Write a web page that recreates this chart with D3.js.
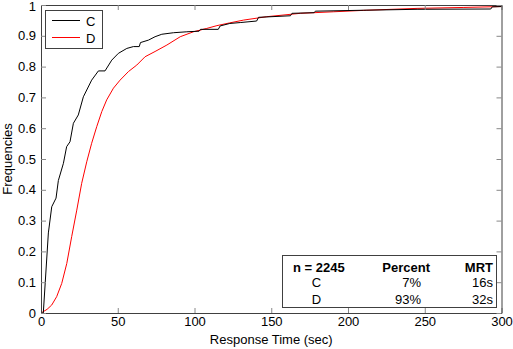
<!DOCTYPE html>
<html>
<head>
<meta charset="utf-8">
<script src="https://cdn.jsdelivr.net/npm/d3@7"></script>
<style>
  html, body { margin: 0; padding: 0; background: #fff; }
  svg { display: block; }
  text { font-family: "Liberation Sans", Arial, Helvetica, sans-serif; fill: #000; }
</style>
</head>
<body>
<svg id="chart" width="513" height="349"></svg>
<script>
// Cumulative response-time frequencies per group: [seconds, fraction]
const seriesC = [
  [0, 0], [1.5, 0], [4.8, 0.26], [7, 0.345], [9.8, 0.373], [11.3, 0.43],
  [14.6, 0.486], [16.7, 0.54], [18.9, 0.556], [21.1, 0.616], [24.3, 0.643],
  [27.6, 0.702], [33, 0.756], [37.4, 0.786], [41.7, 0.786], [46.1, 0.821],
  [50.4, 0.843], [55.9, 0.859], [60.2, 0.865], [64, 0.865], [64.8, 0.878],
  [70, 0.886], [74.3, 0.897], [78.7, 0.905], [86.3, 0.91], [95, 0.913],
  [103, 0.915], [104, 0.921], [115.5, 0.921], [116.7, 0.932], [123, 0.94],
  [129.8, 0.943], [140.5, 0.948], [141.7, 0.96], [162.5, 0.965], [163.5, 0.973],
  [178, 0.975], [178.7, 0.98], [210, 0.983], [245, 0.986], [293, 0.987],
  [294, 0.994], [300, 0.995]
];
const seriesD = [
  [0, 0], [1, 0.003], [4, 0.012], [7, 0.026], [10.2, 0.053], [13.5, 0.096],
  [16.8, 0.161], [20, 0.248], [23.3, 0.334], [26.5, 0.421], [29.8, 0.491],
  [33, 0.551], [36.3, 0.605], [39.6, 0.654], [42.8, 0.692], [47.2, 0.73],
  [51.5, 0.756], [57, 0.784], [62.4, 0.805], [67.8, 0.832], [74.3, 0.849],
  [82, 0.87], [90.7, 0.897], [99.3, 0.913], [108, 0.924], [114.6, 0.933],
  [123, 0.942], [132, 0.951], [147, 0.962], [169, 0.973], [190.7, 0.978],
  [212, 0.983], [245, 0.989], [275, 0.992], [300, 0.995]
];

const xTicks = [0, 50, 100, 150, 200, 250, 300];
const yTicks = [0, 0.1, 0.2, 0.3, 0.4, 0.5, 0.6, 0.7, 0.8, 0.9, 1];
const yTickLabels = ["0", "0.1", "0.2", "0.3", "0.4", "0.5", "0.6", "0.7", "0.8", "0.9", "1"];

const legendItems = [
  { name: "C", color: "#000000" },
  { name: "D", color: "#ff0000" }
];

const tableHeader = ["n = 2245", "Percent", "MRT"];
const tableRows = [
  ["C", "7%", "16s"],
  ["D", "93%", "32s"]
];

const svg = d3.select("#chart");
const plotLeft = 41, plotRight = 501.5, plotTop = 5, plotBottom = 313;

const x = d3.scaleLinear().domain([0, 300]).range([plotLeft, plotRight]);
const y = d3.scaleLinear().domain([0, 1]).range([plotBottom, plotTop]);

const axisColor = "#404040";
const tickLen = 5;

// curves
const g = svg.append("g");
const line = d3.line().x(d => x(d[0])).y(d => y(d[1]));
g.append("path").datum(seriesD)
  .attr("d", line).attr("fill", "none")
  .attr("stroke", legendItems[1].color).attr("stroke-width", 1);
g.append("path").datum(seriesC)
  .attr("d", line).attr("fill", "none")
  .attr("stroke", legendItems[0].color).attr("stroke-width", 1);

// axes with inward ticks on all four sides
const bottomAxis = d3.axisBottom(x).tickValues(xTicks).tickSizeInner(-tickLen).tickSizeOuter(0).tickPadding(4);
const topAxis = d3.axisTop(x).tickValues(xTicks).tickSizeInner(-tickLen).tickSizeOuter(0).tickFormat("");
const leftAxis = d3.axisLeft(y).tickValues(yTicks).tickSizeInner(-tickLen).tickSizeOuter(0).tickPadding(5)
  .tickFormat((d, i) => yTickLabels[i]);
const rightAxis = d3.axisRight(y).tickValues(yTicks).tickSizeInner(-tickLen).tickSizeOuter(0).tickFormat("");

function styleAxis(sel) {
  sel.select(".domain").attr("stroke", axisColor).attr("stroke-width", 1);
  sel.selectAll(".tick line").attr("stroke", "#888").attr("stroke-width", 1);
  sel.selectAll(".tick text").attr("font-size", 13).attr("fill", "#000")
    .attr("font-family", '"Liberation Sans", Arial, sans-serif');
}

svg.append("g").attr("transform", `translate(0,${plotBottom})`).call(bottomAxis).call(styleAxis);
svg.append("g").attr("transform", `translate(0,${plotTop})`).call(topAxis).call(styleAxis);
const leftG = svg.append("g").attr("transform", `translate(${plotLeft},0)`).call(leftAxis).call(styleAxis);
// keep the topmost label inside the canvas
leftG.selectAll(".tick text").filter(d => d === 1).attr("dy", "0.42em");
svg.append("g").attr("transform", `translate(${plotRight},0)`).call(rightAxis).call(styleAxis);

// axis titles
svg.append("text")
  .attr("x", (plotLeft + plotRight) / 2).attr("y", 344)
  .attr("text-anchor", "middle").attr("font-size", 13)
  .text("Response Time (sec)");
svg.append("text")
  .attr("transform", `translate(12,${(plotTop + plotBottom) / 2}) rotate(-90)`)
  .attr("text-anchor", "middle").attr("font-size", 13)
  .text("Frequencies");

// legend
const lg = svg.append("g");
lg.append("rect").attr("x", 45.5).attr("y", 10.5).attr("width", 57).attr("height", 38)
  .attr("fill", "#fff").attr("stroke", axisColor).attr("stroke-width", 1);
legendItems.forEach((it, i) => {
  const yy = 20.5 + i * 17;
  lg.append("line").attr("x1", 52).attr("x2", 80).attr("y1", yy).attr("y2", yy)
    .attr("stroke", it.color).attr("stroke-width", 1);
  lg.append("text").attr("x", 86).attr("y", yy + 5).attr("font-size", 13).text(it.name);
});

// summary table
const tg = svg.append("g");
tg.append("rect").attr("x", 282.5).attr("y", 255.5).attr("width", 214).attr("height", 52)
  .attr("fill", "#fff").attr("stroke", axisColor).attr("stroke-width", 1);
const colX = [293, 430, 493];
const colAnchor = ["start", "end", "end"];
tableHeader.forEach((h, j) => {
  tg.append("text").attr("x", colX[j]).attr("y", 272)
    .attr("text-anchor", colAnchor[j]).attr("font-size", 13).attr("font-weight", "bold").text(h);
});
const rowX = [316.5, 421, 493];
const rowAnchor = ["middle", "end", "end"];
tableRows.forEach((row, i) => {
  row.forEach((v, j) => {
    tg.append("text").attr("x", rowX[j]).attr("y", 287 + i * 16.5)
      .attr("text-anchor", rowAnchor[j]).attr("font-size", 13).text(v);
  });
});
</script>
</body>
</html>
